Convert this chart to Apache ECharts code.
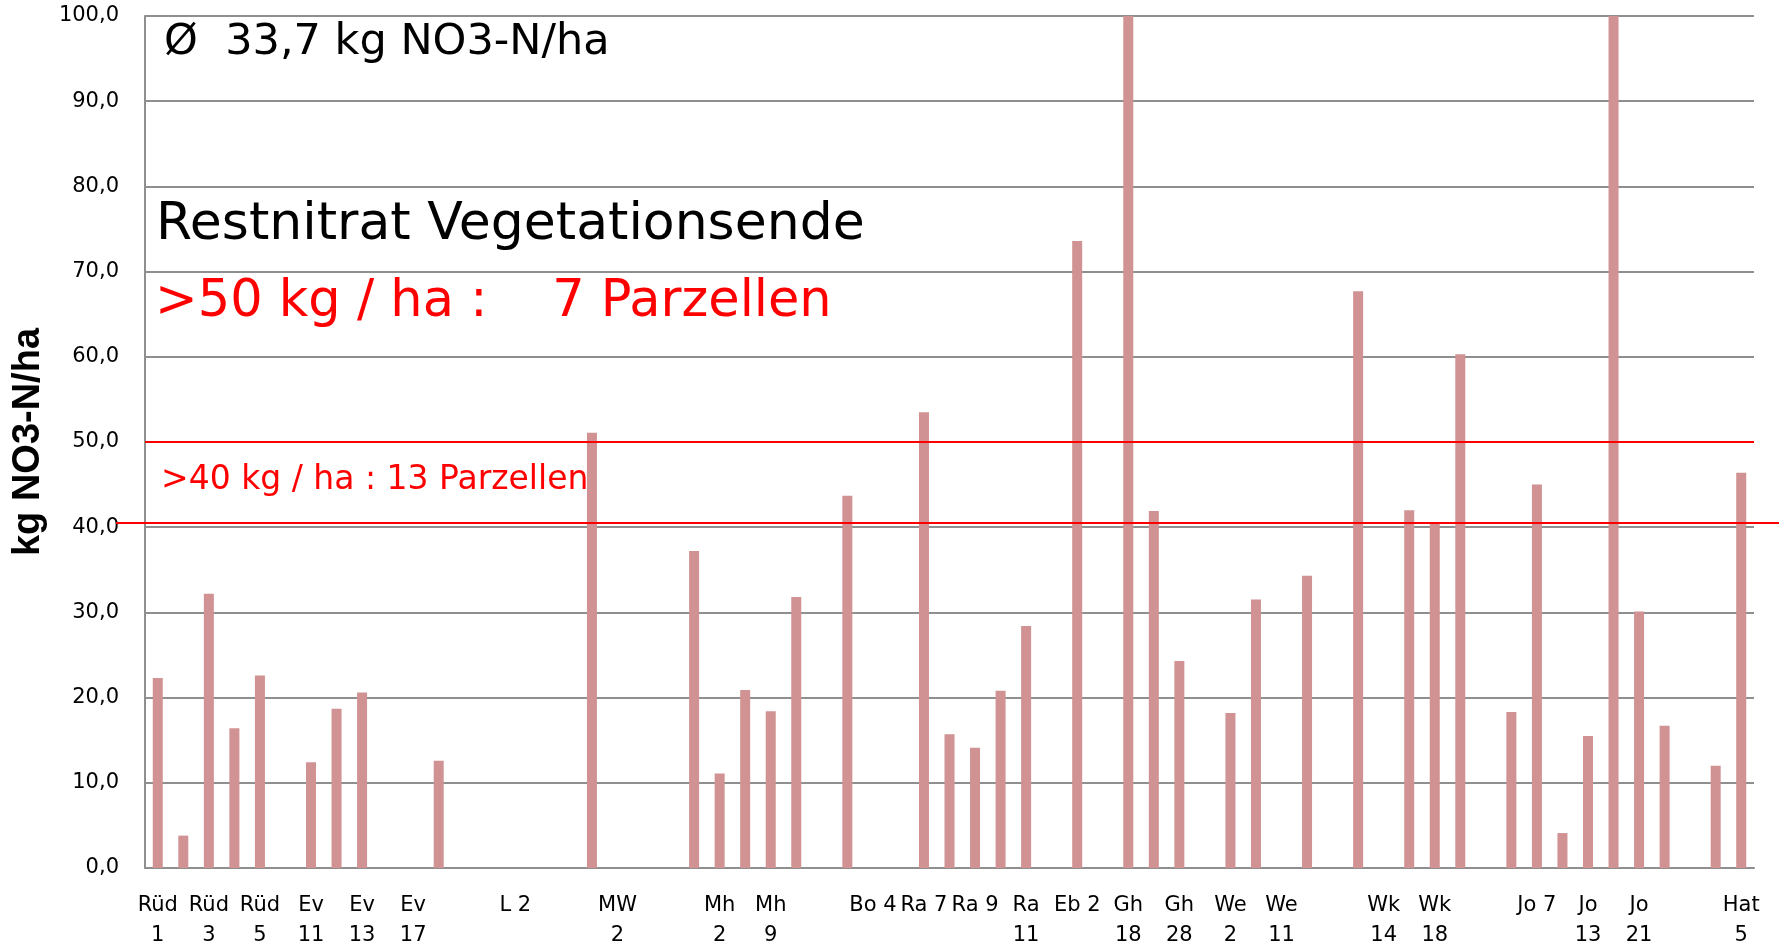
<!DOCTYPE html>
<html>
<head>
<meta charset="utf-8">
<script src="https://cdn.jsdelivr.net/npm/echarts@6/dist/echarts.min.js"></script>
<style>
  html, body { margin: 0; padding: 0; background: #ffffff; }
  #chart { width: 1779px; height: 947px; }
</style>
</head>
<body>
<div id="chart"></div>
<script>
// Kategorien (nur jede zweite ist beschriftet)
let categories = [
  'Rüd\n1', '', 'Rüd\n3', '', 'Rüd\n5', '', 'Ev\n11', '', 'Ev\n13', '',
  'Ev\n17', '', '', '', 'L 2', '', '', '', 'MW\n2', '',
  '', '', 'Mh\n2', '', 'Mh\n9', '', '', '', 'Bo 4', '',
  'Ra 7', '', 'Ra 9', '', 'Ra\n11', '', 'Eb 2', '', 'Gh\n18', '',
  'Gh\n28', '', 'We\n2', '', 'We\n11', '', '', '', 'Wk\n14', '',
  'Wk\n18', '', '', '', 'Jo 7', '', 'Jo\n13', '', 'Jo\n21', '',
  '', '', 'Hat\n5'
];
// kg NO3-N/ha (zwei Werte > 100 werden abgeschnitten)
let restnitrat = [
  22.3, 3.8, 32.2, 16.4, 22.6, null, 12.4, 18.7, 20.6, null,
  null, 12.6, null, null, null, null, null, 51.1, null, null,
  null, 37.2, 11.1, 20.9, 18.4, 31.8, null, 43.7, null, null,
  53.5, 15.7, 14.1, 20.8, 28.4, null, 73.6, null, 125, 41.9,
  24.3, null, 18.2, 31.5, null, 34.3, null, 67.7, null, 42.0,
  40.6, 60.3, null, 18.3, 45.0, 4.1, 15.5, 126, 30.1, 16.7,
  null, 12.0, 46.4
];
let thresholds = [50, 40.5];
let yTicks = [0, 10, 20, 30, 40, 50, 60, 70, 80, 90, 100];

let font = "'DejaVu Sans', sans-serif";

let chart = echarts.init(document.getElementById('chart'));

let option = {
  backgroundColor: '#ffffff',
  animation: false,
  grid: { left: 145, right: 25, top: 16, bottom: 79, containLabel: false, outerBoundsMode: 'none' },
  xAxis: {
    type: 'category',
    data: categories,
    axisTick: { show: false },
    axisLine: { lineStyle: { color: '#8f8f8f', width: 2 } },
    axisLabel: {
      interval: 1,
      margin: 23,
      color: '#000',
      fontFamily: font,
      fontSize: 21,
      lineHeight: 30
    }
  },
  yAxis: {
    type: 'value',
    min: yTicks[0],
    max: yTicks[yTicks.length - 1],
    interval: 10,
    name: 'kg NO3-N/ha',
    nameLocation: 'middle',
    nameGap: 97,
    nameTextStyle: {
      fontFamily: "'Liberation Sans', Arial, sans-serif",
      fontWeight: 'bold',
      fontSize: 38,
      color: '#000'
    },
    axisLine: { show: true, lineStyle: { color: '#8f8f8f', width: 2 } },
    axisTick: { show: false },
    splitLine: { lineStyle: { color: '#8f8f8f', width: 2 } },
    axisLabel: {
      margin: 26,
      color: '#000',
      fontFamily: font,
      fontSize: 21,
      formatter: function (v) { return v.toFixed(1).replace('.', ','); }
    }
  },
  series: [{
    type: 'bar',
    data: restnitrat,
    barWidth: 10,
    clip: true,
    itemStyle: { color: '#d09292' },
    markLine: {
      silent: true,
      symbol: 'none',
      label: { show: false },
      lineStyle: { color: '#ff0000', width: 2, type: 'solid' },
      data: [{ yAxis: thresholds[0] }]
    }
  }]
};
chart.setOption(option);

// zweite Grenzlinie geht über die Achse hinaus
let y40 = chart.convertToPixel({ yAxisIndex: 0 }, thresholds[1]);

chart.setOption({
  graphic: [
    {
      type: 'line', silent: true, z: 10,
      shape: { x1: 116, y1: y40, x2: 1779, y2: y40 },
      style: { stroke: '#ff0000', lineWidth: 2 }
    },
    {
      type: 'text', left: 164, top: 21, z: 10,
      style: { text: 'Ø  33,7 kg NO3-N/ha', font: "43px " + font, fill: '#000' }
    },
    {
      type: 'text', left: 156, top: 199, z: 10,
      style: { text: 'Restnitrat Vegetationsende', font: "52px " + font, fill: '#000' }
    },
    {
      type: 'text', left: 155, top: 277, z: 10,
      style: { text: '>50 kg / ha :    7 Parzellen', font: "51px " + font, fill: '#ff0000' }
    },
    {
      type: 'text', left: 161, top: 464, z: 10,
      style: { text: '>40 kg / ha : 13 Parzellen', font: "33px " + font, fill: '#ff0000' }
    }
  ]
});
</script>
</body>
</html>
